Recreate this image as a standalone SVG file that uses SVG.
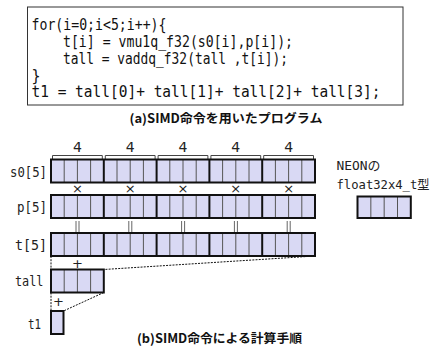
<svg xmlns="http://www.w3.org/2000/svg" width="439" height="349" viewBox="0 0 439 349">
<style>
.code{font-family:"DejaVu Sans Mono","Noto Sans CJK JP",monospace;font-size:15px;fill:#111}
.lbl{font-family:"DejaVu Sans Mono","Noto Sans CJK JP",monospace;font-size:14px;fill:#222}
.nl{font-family:"DejaVu Sans Mono","Noto Sans CJK JP",monospace;font-size:13px;fill:#222}
.cap{font-family:"Noto Sans CJK JP",sans-serif;font-size:12.5px;font-weight:bold;fill:#111}
.num{font-family:"DejaVu Sans",sans-serif;font-size:14px;fill:#222;text-anchor:middle}
.op{font-family:"DejaVu Sans",sans-serif;font-size:13px;fill:#222;text-anchor:middle}
.fill{fill:#d9d9f4;stroke:none}
.thin{stroke:#555;stroke-width:1;fill:none}
.thick{stroke:#111;stroke-width:2;fill:none}
.brk{stroke:#444;stroke-width:1;fill:none}
.dot{stroke:#111;stroke-width:1;stroke-dasharray:2,1.2;fill:none}
.eq{stroke:#666;stroke-width:1}
</style>
<defs>
<g id="grp">
<rect class="fill" x="0" y="0" width="52.8" height="23"/>
<line class="thin" x1="13.2" y1="0" x2="13.2" y2="23"/>
<line class="thin" x1="26.4" y1="0" x2="26.4" y2="23"/>
<line class="thin" x1="39.6" y1="0" x2="39.6" y2="23"/>
</g>
<g id="row">
<use href="#grp" x="0"/><use href="#grp" x="52.8"/><use href="#grp" x="105.6"/><use href="#grp" x="158.4"/><use href="#grp" x="211.2"/>
<line class="thick" x1="52.8" y1="0" x2="52.8" y2="23"/>
<line class="thick" x1="105.6" y1="0" x2="105.6" y2="23"/>
<line class="thick" x1="158.4" y1="0" x2="158.4" y2="23"/>
<line class="thick" x1="211.2" y1="0" x2="211.2" y2="23"/>
<rect class="thick" x="0" y="0" width="264" height="23"/>
</g>
</defs>

<g id="program">
<rect x="27.5" y="7" width="375.5" height="98" fill="#fff" stroke="#333" stroke-width="1"/>
<text class="code" x="31.5" y="29.5" textLength="135" lengthAdjust="spacingAndGlyphs">for(i=0;i&lt;5;i++){</text>
<text class="code" x="63" y="46.5" textLength="230" lengthAdjust="spacingAndGlyphs">t[i] = vmu1q_f32(s0[i],p[i]);</text>
<text class="code" x="63" y="63.5" textLength="225" lengthAdjust="spacingAndGlyphs">tall = vaddq_f32(tall ,t[i]);</text>
<text class="code" x="31.5" y="80.5">}</text>
<text class="code" x="31.5" y="97" textLength="349" lengthAdjust="spacingAndGlyphs">t1 = tall[0]+ tall[1]+ tall[2]+ tall[3];</text>
</g>
<text class="cap" x="226" y="123" text-anchor="middle" textLength="193" lengthAdjust="spacingAndGlyphs">(a)SIMD命令を用いたプログラム</text>

<g id="brackets">
<path class="brk" d="M52.5,159 V155.5 H102.3 V159"/>
<path class="brk" d="M105.3,159 V155.5 H155.1 V159"/>
<path class="brk" d="M158.1,159 V155.5 H207.9 V159"/>
<path class="brk" d="M210.9,159 V155.5 H260.7 V159"/>
<path class="brk" d="M263.7,159 V155.5 H313.5 V159"/>
<text class="num" x="77.4" y="151.5">4</text>
<text class="num" x="130.2" y="151.5">4</text>
<text class="num" x="183" y="151.5">4</text>
<text class="num" x="235.8" y="151.5">4</text>
<text class="num" x="288.6" y="151.5">4</text>
</g>

<g id="s0">
<text class="lbl" x="10" y="176.5" textLength="37" lengthAdjust="spacingAndGlyphs">s0[5]</text>
<use href="#row" x="51" y="159.5"/>
</g>
<g id="p">
<text class="lbl" x="17" y="212" textLength="30" lengthAdjust="spacingAndGlyphs">p[5]</text>
<use href="#row" x="51" y="195"/>
</g>
<g id="t">
<text class="lbl" x="15" y="249.5" textLength="32" lengthAdjust="spacingAndGlyphs">t[5]</text>
<use href="#row" x="51" y="233"/>
</g>
<g id="tall">
<text class="lbl" x="15" y="286" textLength="28.5" lengthAdjust="spacingAndGlyphs">tall</text>
<use href="#grp" x="51" y="269.5"/>
<rect class="thick" x="51" y="269.5" width="52.8" height="23"/>
</g>
<g id="t1">
<text class="lbl" x="28" y="329" textLength="13" lengthAdjust="spacingAndGlyphs">t1</text>
<rect class="fill" x="51" y="311" width="12.5" height="23"/>
<rect class="thick" x="51" y="311" width="12.5" height="23"/>
</g>

<g id="neon">
<text class="nl" x="336.5" y="170" textLength="44" lengthAdjust="spacingAndGlyphs">NEONの</text>
<text class="nl" x="336.5" y="189" textLength="93" lengthAdjust="spacingAndGlyphs">float32x4_t型</text>
<use href="#grp" x="357.5" y="196.5" transform="translate(357.5,196.5) scale(1.01,0.93) translate(-357.5,-196.5)"/>
<rect class="thick" x="357.5" y="196.5" width="53.3" height="21.5"/>
</g>

<g id="connectors">
<text class="op" x="77.4" y="193">×</text>
<text class="op" x="130.2" y="193">×</text>
<text class="op" x="183" y="193">×</text>
<text class="op" x="235.8" y="193">×</text>
<text class="op" x="288.6" y="193">×</text>
<g class="eq">
<line x1="76" y1="221" x2="76" y2="232"/><line x1="79" y1="221" x2="79" y2="232"/>
<line x1="128.8" y1="221" x2="128.8" y2="232"/><line x1="131.8" y1="221" x2="131.8" y2="232"/>
<line x1="181.6" y1="221" x2="181.6" y2="232"/><line x1="184.6" y1="221" x2="184.6" y2="232"/>
<line x1="234.4" y1="221" x2="234.4" y2="232"/><line x1="237.4" y1="221" x2="237.4" y2="232"/>
<line x1="287.2" y1="221" x2="287.2" y2="232"/><line x1="290.2" y1="221" x2="290.2" y2="232"/>
</g>
<line class="dot" x1="51" y1="256" x2="51" y2="269.5"/>
<line class="dot" x1="315" y1="256" x2="103.8" y2="269.5"/>
<text class="op" x="77.4" y="268" font-size="15">+</text>
<line class="dot" x1="51" y1="292.5" x2="51" y2="311"/>
<line class="dot" x1="103.8" y1="292.5" x2="63.5" y2="311"/>
<text class="op" x="58.5" y="306" font-size="15">+</text>
</g>

<text class="cap" x="219.5" y="343" text-anchor="middle" textLength="165" lengthAdjust="spacingAndGlyphs">(b)SIMD命令による計算手順</text>
</svg>
